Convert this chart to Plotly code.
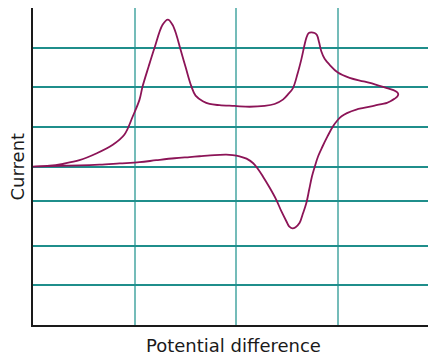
import plotly.graph_objects as go

potential = [0.0, 0.163, 0.294, 0.458, 0.623, 0.786, 0.901, 0.983, 1.049, 1.079, 1.138, 1.197,
             1.276, 1.328, 1.374, 1.414, 1.448, 1.502, 1.559, 1.601, 1.673, 1.739, 1.837, 1.985,
             2.133, 2.281, 2.379, 2.461, 2.517, 2.560, 2.606, 2.642, 2.692, 2.714, 2.741, 2.773,
             2.796, 2.818, 2.839, 2.872, 2.921, 2.999, 3.118, 3.256, 3.374, 3.486, 3.550, 3.585,
             3.597, 3.588, 3.560, 3.520, 3.486, 3.364, 3.256, 3.184, 3.092, 3.039, 2.999, 2.950,
             2.900, 2.850, 2.808, 2.775, 2.747, 2.720, 2.692, 2.655, 2.626, 2.586, 2.554, 2.522,
             2.495, 2.448, 2.396, 2.330, 2.264, 2.212, 2.166, 2.103, 2.034, 1.966, 1.903, 1.788,
             1.640, 1.542, 1.394, 1.214, 1.049, 0.852, 0.655, 0.458, 0.261, 0.0]
current = [4.00, 4.02, 4.07, 4.16, 4.33, 4.55, 4.81, 5.27, 5.69, 6.02, 6.52, 7.00,
           7.58, 7.71, 7.58, 7.31, 7.00, 6.52, 6.03, 5.79, 5.65, 5.58, 5.55, 5.53,
           5.51, 5.53, 5.58, 5.69, 5.84, 5.98, 6.35, 6.70, 7.25, 7.37, 7.39, 7.37,
           7.32, 7.13, 6.91, 6.72, 6.57, 6.38, 6.24, 6.15, 6.07, 5.98, 5.93, 5.88,
           5.83, 5.77, 5.71, 5.65, 5.61, 5.54, 5.48, 5.44, 5.35, 5.27, 5.17, 5.00,
           4.76, 4.50, 4.26, 4.00, 3.75, 3.42, 3.08, 2.79, 2.58, 2.47, 2.44, 2.49,
           2.62, 2.86, 3.16, 3.47, 3.75, 3.95, 4.09, 4.20, 4.26, 4.29, 4.30, 4.29,
           4.26, 4.24, 4.21, 4.16, 4.11, 4.08, 4.05, 4.03, 4.02, 4.00]

x_grid = [1, 2, 3]
y_grid = [1, 2, 3.13, 4, 5, 6, 7, 8]

x_title = "Potential difference"
y_title = "Current"

fig = go.Figure()
fig.add_trace(go.Scatter(
    x=potential, y=current, mode="lines",
    line=dict(color="#8C1457", width=1.8, shape="spline", smoothing=1.0),
    hoverinfo="skip", showlegend=False,
))

fig.update_layout(
    width=428, height=356,
    margin=dict(l=33, r=0, t=8, b=31),
    paper_bgcolor="white", plot_bgcolor="white",
    xaxis=dict(range=[0, 3.89], tickvals=x_grid, showticklabels=False, ticks="",
               showgrid=True, gridcolor="#74BCB9", gridwidth=2, zeroline=False,
               showline=True, linecolor="#1a1a1a", linewidth=2, mirror=False),
    yaxis=dict(range=[0, 8.003], tickvals=y_grid, showticklabels=False, ticks="",
               showgrid=True, gridcolor="#1F8E8B", gridwidth=1.5, zeroline=False,
               showline=True, linecolor="#1a1a1a", linewidth=2, mirror=False),
    annotations=[
        dict(text=x_title, xref="paper", yref="paper", x=0.507, y=0, xanchor="center",
             yanchor="top", yshift=-8, showarrow=False,
             font=dict(family="DejaVu Sans", size=18, color="#1a1a1a")),
        dict(text=y_title, xref="paper", yref="paper", x=-0.038, y=0.5, xanchor="center",
             yanchor="middle", textangle=-90, showarrow=False,
             font=dict(family="DejaVu Sans", size=18, color="#1a1a1a")),
    ],
)

# remove the page's default body margin so the figure fills the window exactly
fig.write_html("out.html", config={"displayModeBar": False},
               post_script="document.body.style.margin='0';document.body.style.overflow='hidden';")
